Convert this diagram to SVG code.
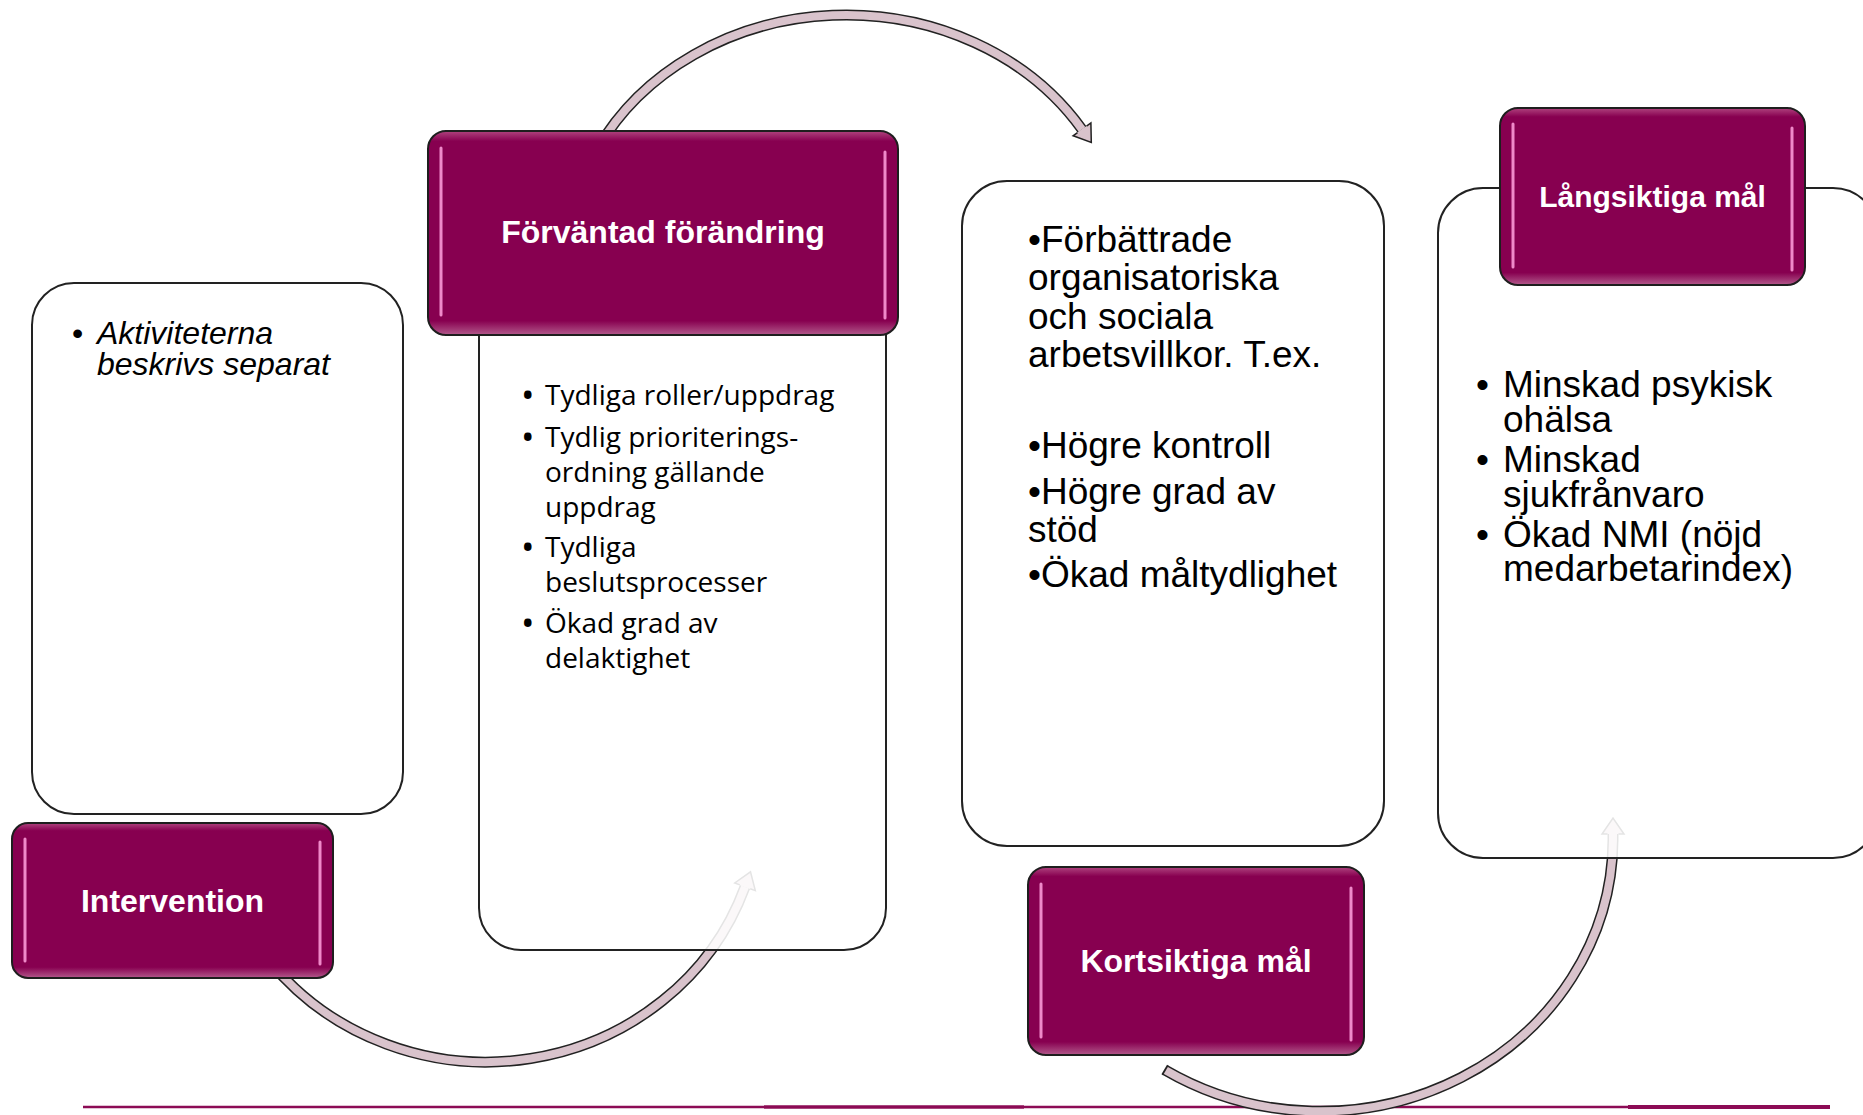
<svg xmlns="http://www.w3.org/2000/svg" width="1863" height="1115" viewBox="0 0 1863 1115">
<style>
.bg{fill:#ffffff}
.wbox{fill:#ffffff;fill-opacity:0.88;stroke:#222;stroke-width:2}
.mbox{fill:url(#mg);stroke:#1e1e1e;stroke-width:2}
.hl{stroke:#f490d0;stroke-width:3;stroke-linecap:round;fill:none;opacity:0.95}
.mt{font-family:"Liberation Sans",Arial,sans-serif;font-weight:bold;fill:#ffffff;text-anchor:middle}
.ao{fill:none;stroke:#222;stroke-width:11}
.ai{fill:none;stroke:#d9c3cc;stroke-width:8}
.ah{fill:#d9c3cc;stroke:#222;stroke-width:1.5;stroke-linejoin:miter}
.t1{font-family:"Liberation Sans",Arial,sans-serif;font-size:32px;font-style:italic;fill:#000}
.t2{font-family:"Open Sans","Liberation Sans",sans-serif;font-size:28px;fill:#000}
.b2{font-size:36px}
.t3{font-family:"Liberation Sans",Arial,sans-serif;font-size:37px;fill:#000}
.base{stroke:#8c0b55;fill:none}
</style>
<defs>
<linearGradient id="mg" x1="0" y1="0" x2="0" y2="1">
<stop offset="0" stop-color="#b0447f"/>
<stop offset="0.05" stop-color="#870050"/>
<stop offset="0.93" stop-color="#870050"/>
<stop offset="1" stop-color="#b35a8c"/>
</linearGradient>
</defs>
<rect class="bg" x="0" y="0" width="1863" height="1115"/>

<g id="baseline">
<line class="base" x1="83" y1="1107" x2="764" y2="1107" stroke-width="2.5"/>
<line class="base" x1="764" y1="1107" x2="1024" y2="1107" stroke-width="3.5"/>
<line class="base" x1="1024" y1="1107" x2="1628" y2="1107" stroke-width="2.5"/>
<line class="base" x1="1628" y1="1107" x2="1830" y2="1107" stroke-width="4"/>
</g>

<g id="connectors">
<g id="arrow-a">
<path class="ao" d="M 596.7 150 A 279 245 0 0 1 1082 129.4"/>
<path class="ai" d="M 596.7 150 A 279 245 0 0 1 1082 129.4"/>
<path class="ah" d="M 1077.5 132.6 L 1073.1 135.8 L 1091.3 142.4 L 1090.9 123.0 L 1086.5 126.2"/>
</g>
<g id="arrow-b">
<path class="ao" d="M 270 961.7 A 274.5 262 0 0 0 745 886.8"/>
<path class="ai" d="M 270 961.7 A 274.5 262 0 0 0 745 886.8"/>
<path class="ah" d="M 750.2 888.7 L 755.3 890.6 L 750.5 871.8 L 734.7 883.0 L 739.8 884.9"/>
</g>
<g id="arrow-c">
<path class="ao" d="M 1165 1070 A 293 273 0 0 0 1613 840 L 1613 834"/>
<path class="ai" d="M 1165 1070 A 293 273 0 0 0 1613 840 L 1613 834"/>
<line x1="1162.2" y1="1074.7" x2="1167.8" y2="1065.3" stroke="#222" stroke-width="1.8"/>
<path class="ah" d="M 1618.5 834 L 1624 834 L 1613 818 L 1602 834 L 1607.5 834"/>
</g>
</g>

<g id="intervention-content">
<rect class="wbox" x="32" y="283" width="371" height="531" rx="42" ry="42"/>
<text class="t1"><tspan x="72" y="344" font-style="normal">•</tspan><tspan x="97" y="344">Aktiviteterna</tspan><tspan x="97" y="375">beskrivs separat</tspan></text>
</g>

<g id="change-content">
<rect class="wbox" x="479" y="290" width="407" height="660" rx="42" ry="42"/>
<text class="t2"><tspan class="b2" x="521" y="408">•</tspan><tspan x="545" y="405">Tydliga roller/uppdrag</tspan><tspan class="b2" x="521" y="450">•</tspan><tspan x="545" y="447">Tydlig prioriterings-</tspan><tspan x="545" y="482">ordning gällande</tspan><tspan x="545" y="517">uppdrag</tspan><tspan class="b2" x="521" y="560">•</tspan><tspan x="545" y="557">Tydliga</tspan><tspan x="545" y="592">beslutsprocesser</tspan><tspan class="b2" x="521" y="636">•</tspan><tspan x="545" y="633">Ökad grad av</tspan><tspan x="545" y="668">delaktighet</tspan></text>
</g>

<g id="short-term-content">
<rect class="wbox" x="962" y="181" width="422" height="665" rx="45" ry="45"/>
<text class="t3"><tspan x="1028" y="252">•Förbättrade</tspan><tspan x="1028" y="290">organisatoriska</tspan><tspan x="1028" y="329">och sociala</tspan><tspan x="1028" y="367">arbetsvillkor. T.ex.</tspan><tspan x="1028" y="458">•Högre kontroll</tspan><tspan x="1028" y="504">•Högre grad av</tspan><tspan x="1028" y="542">stöd</tspan><tspan x="1028" y="587">•Ökad måltydlighet</tspan></text>
</g>

<g id="long-term-content">
<rect class="wbox" x="1438" y="188" width="440" height="670" rx="45" ry="45"/>
<text class="t3"><tspan x="1476" y="397">•</tspan><tspan x="1503" y="397">Minskad psykisk</tspan><tspan x="1503" y="432">ohälsa</tspan><tspan x="1476" y="472">•</tspan><tspan x="1503" y="472">Minskad</tspan><tspan x="1503" y="507">sjukfrånvaro</tspan><tspan x="1476" y="547">•</tspan><tspan x="1503" y="547">Ökad NMI (nöjd</tspan><tspan x="1503" y="581">medarbetarindex)</tspan></text>
</g>

<g id="intervention">
<rect class="mbox" x="12" y="823" width="321" height="155" rx="16" ry="16"/>
<line class="hl" x1="25" y1="839" x2="25" y2="961"/>
<line class="hl" x1="320" y1="842" x2="320" y2="964"/>
<text class="mt" x="172.5" y="912" font-size="32">Intervention</text>
</g>

<g id="expected-change">
<rect class="mbox" x="428" y="131" width="470" height="204" rx="18" ry="18"/>
<line class="hl" x1="441" y1="148" x2="441" y2="315"/>
<line class="hl" x1="885" y1="152" x2="885" y2="318"/>
<text class="mt" x="663" y="243" font-size="32">Förväntad förändring</text>
</g>

<g id="short-term-goals">
<rect class="mbox" x="1028" y="867" width="336" height="188" rx="18" ry="18"/>
<line class="hl" x1="1041" y1="884" x2="1041" y2="1037"/>
<line class="hl" x1="1351" y1="888" x2="1351" y2="1040"/>
<text class="mt" x="1196" y="972" font-size="32">Kortsiktiga mål</text>
</g>

<g id="long-term-goals">
<rect class="mbox" x="1500" y="108" width="305" height="177" rx="18" ry="18"/>
<line class="hl" x1="1513" y1="124" x2="1513" y2="267"/>
<line class="hl" x1="1792" y1="128" x2="1792" y2="270"/>
<text class="mt" x="1652.5" y="207" font-size="30">Långsiktiga mål</text>
</g>
</svg>
